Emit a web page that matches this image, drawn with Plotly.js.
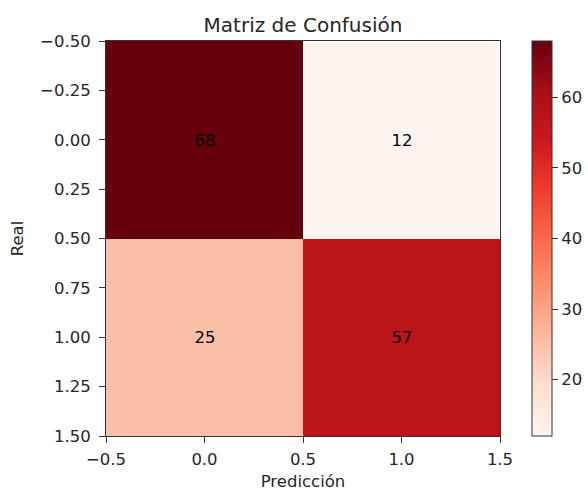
<!DOCTYPE html>
<html>
<head>
<meta charset="utf-8">
<script src="https://cdn.plot.ly/plotly-3.0.1.min.js"></script>
<style>html,body{margin:0;padding:0;background:#fff;}</style>
</head>
<body>
<div id="chart" style="width:588px;height:491px;"></div>
<script>
const predIdx = [0, 1];
const realIdx = [0, 1];
const matrix = [[68, 12], [25, 57]];
const cbTicks = [20, 30, 40, 50, 60];
const xTicks = [-0.5, 0.0, 0.5, 1.0, 1.5];
const yTicks = [-0.5, -0.25, 0.0, 0.25, 0.5, 0.75, 1.0, 1.25, 1.5];

const reds = [
  [0.0, '#fff5f0'], [0.125, '#fee0d2'], [0.25, '#fcbba1'], [0.375, '#fc9272'],
  [0.5, '#fb6a4a'], [0.625, '#ef3b2c'], [0.75, '#cb181d'], [0.875, '#a50f15'], [1.0, '#67000d']
];
const FS = 16.5;
const font = {family: 'DejaVu Sans', size: FS, color: '#262626'};
const zAll = matrix.flat();

const trace = {
  type: 'heatmap', x: predIdx, y: realIdx, z: matrix,
  colorscale: reds, zmin: Math.min(...zAll), zmax: Math.max(...zAll),
  texttemplate: '%{z}', textfont: {family: 'DejaVu Sans', size: FS, color: '#000'},
  hoverinfo: 'skip',
  colorbar: {
    x: 1.081, xanchor: 'left', xpad: 0, ypad: 0, y: 0.5, yanchor: 'middle',
    len: 1, lenmode: 'fraction', thickness: 20, thicknessmode: 'pixels',
    outlinewidth: 1, outlinecolor: '#333',
    tickvals: cbTicks, ticks: 'outside', ticklen: 6, tickcolor: '#333',
    tickprefix: ' ',
    tickfont: font
  }
};

const layout = {
  width: 588, height: 491,
  margin: {l: 106, r: 88, t: 41, b: 55, autoexpand: false},
  paper_bgcolor: '#fff', plot_bgcolor: '#fff',
  font: font,
  title: {text: 'Matriz de Confusión', x: 0.5, xref: 'paper', xanchor: 'center', y: 1, yref: 'paper', yanchor: 'bottom', pad: {b: 9}, font: {family: 'DejaVu Sans', size: 20, color: '#262626'}},
  xaxis: {
    range: [-0.5, 1.5], tickvals: xTicks, tickformat: '.1f',
    ticks: 'outside', ticklen: 6, tickcolor: '#333', ticklabelstandoff: 2, showgrid: false, zeroline: false,
    showline: true, linecolor: '#333', linewidth: 1, mirror: true,
    title: {text: 'Predicción', font: font, standoff: 8}, tickfont: font
  },
  yaxis: {
    range: [1.5, -0.5], tickvals: yTicks, tickformat: '.2f',
    ticks: 'outside', ticklen: 6, tickcolor: '#333', ticklabelstandoff: 5, showgrid: false, zeroline: false,
    showline: true, linecolor: '#333', linewidth: 1, mirror: true,
    title: {text: 'Real', font: font, standoff: 12}, tickfont: font
  }
};

Plotly.newPlot('chart', [trace], layout, {displayModeBar: false, staticPlot: true});
</script>
</body>
</html>
